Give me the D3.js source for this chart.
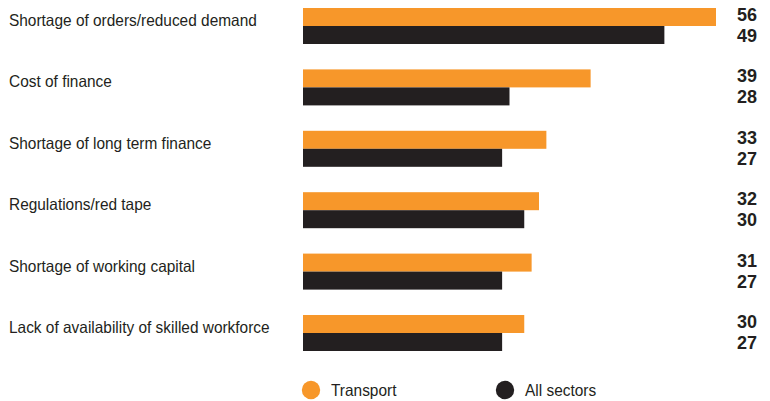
<!DOCTYPE html>
<html>
<head>
<meta charset="utf-8">
<script src="https://cdn.jsdelivr.net/npm/d3@7"></script>
<style>
  html, body { margin: 0; padding: 0; background: #fff; }
  svg { display: block; }
  .cat, .leg { font-family: "Liberation Sans", Arial, sans-serif; font-size: 16.5px; fill: #231f20; }
  .val { font-family: "Liberation Sans", Arial, sans-serif; font-size: 18px; font-weight: bold; fill: #231f20; }
</style>
</head>
<body>
<script>
// Obstacles to growth: share of firms reporting each, transport vs all sectors
const categories = [
  "Shortage of orders/reduced demand",
  "Cost of finance",
  "Shortage of long term finance",
  "Regulations/red tape",
  "Shortage of working capital",
  "Lack of availability of skilled workforce"
];
const seriesNames = ["Transport", "All sectors"];
const transport = [56, 39, 33, 32, 31, 30];
const allSectors = [49, 28, 27, 30, 27, 27];
const colors = ["#f7972a", "#231f20"];

const W = 770, H = 401;
const narrow = 0.935; // horizontal squeeze for the condensed label face
const svg = d3.select("body").append("svg").attr("width", W).attr("height", H);

const x = d3.scaleLinear().domain([0, 56]).range([303, 716]);
const y = d3.scaleBand().domain(categories).range([8, 351]).paddingInner(0.4137).paddingOuter(0);
const sub = d3.scaleBand().domain(seriesNames).range([0, y.bandwidth()]);

const rows = svg.selectAll("g.row").data(categories).join("g")
  .attr("class", "row")
  .attr("transform", d => `translate(0,${y(d)})`);

rows.append("text").attr("class", "cat")
  .attr("transform", `translate(9,18) scale(${narrow},1)`)
  .text(d => d);

const vals = [transport, allSectors];
const valBase = [13, 34];
seriesNames.forEach((s, si) => {
  rows.append("rect")
    .attr("x", x(0))
    .attr("y", sub(s))
    .attr("width", (d, i) => x(vals[si][i]) - x(0))
    .attr("height", sub.bandwidth())
    .attr("fill", colors[si]);
  rows.append("text").attr("class", "val")
    .attr("x", 757).attr("text-anchor", "end")
    .attr("y", valBase[si])
    .text((d, i) => vals[si][i]);
});

// legend
const legX = [311, 505];
const leg = svg.selectAll("g.leg").data(seriesNames).join("g")
  .attr("transform", (d, i) => `translate(${legX[i]},390)`);
leg.append("circle").attr("r", 9.2).attr("fill", (d, i) => colors[i]);
leg.append("text").attr("class", "leg")
  .attr("transform", `translate(20,6) scale(${narrow},1)`)
  .text(d => d);
</script>
</body>
</html>
